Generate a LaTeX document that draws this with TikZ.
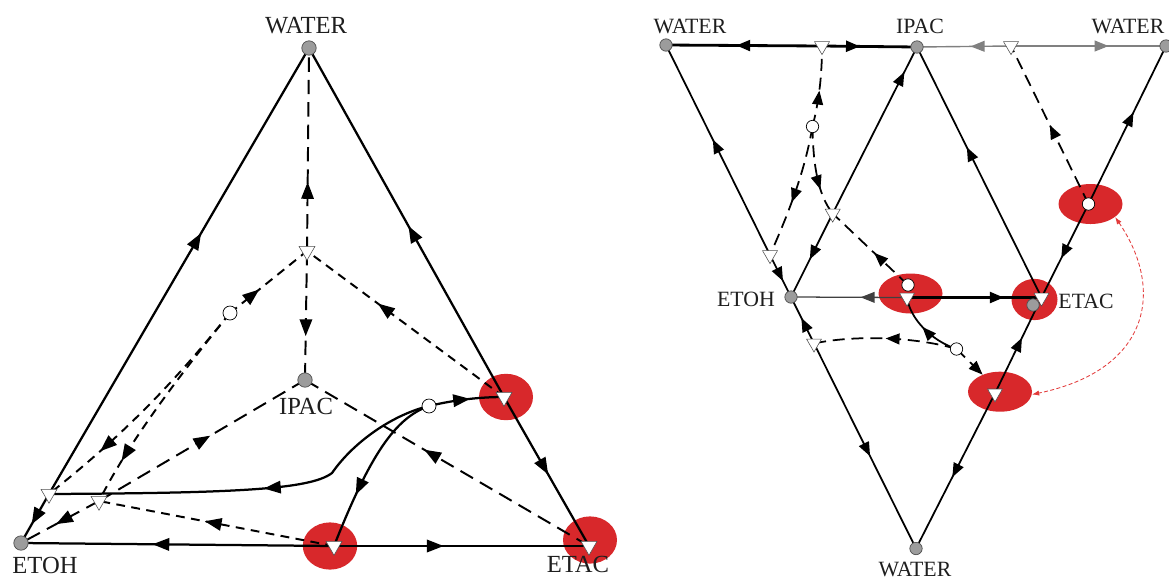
\documentclass[tikz,border=0pt]{standalone}
\usepackage{fontspec}
\setmainfont{Liberation Serif}
\usetikzlibrary{arrows.meta,shapes.geometric,decorations.markings}
\definecolor{cmancha}{HTML}{D8282B}
\definecolor{cpunto}{HTML}{9C9C9C}
\definecolor{cbordep}{HTML}{505050}
\definecolor{cgrisl}{HTML}{808080}
\definecolor{ctexto}{HTML}{1E1E1E}
\definecolor{crojo}{HTML}{E23A3A}
\pgfdeclarelayer{manchas}
\pgfdeclarelayer{trazos}
\pgfsetlayers{manchas,trazos,main}
\tikzset{
  vertice/.style={circle,draw=cbordep,fill=cpunto,line width=0.5pt,inner sep=0pt,minimum size=3.6mm},
  verticec/.style={vertice,minimum size=3.1mm},
  silla/.style={regular polygon,regular polygon sides=3,shape border rotate=180,draw=cbordep,
                fill=white,line width=0.4pt,inner sep=0pt,minimum size=4.6mm},
  sillac/.style={silla,minimum size=4.3mm},
  nodoc/.style={circle,draw=black,fill=white,line width=0.5pt,inner sep=0pt,minimum size=3.5mm},
  nodocc/.style={nodoc,minimum size=3.1mm},
  mancha/.style 2 args={ellipse,fill=cmancha,inner sep=0pt,minimum width=#1,minimum height=#2},
  etq/.style={font=\fontsize{17.5}{20}\selectfont,text=ctexto,inner sep=0pt},
  etqc/.style={font=\fontsize{15.5}{18}\selectfont,text=ctexto,inner sep=0pt},
  fl/.style={postaction={decorate},decoration={markings,
             mark=at position #1 with {\arrow{Triangle[length=4.2mm,width=3.1mm]}}}},
  flc/.style={postaction={decorate},decoration={markings,
             mark=at position #1 with {\arrow{Triangle[length=3.5mm,width=2.7mm]}}}},
  lado/.style={draw=black,line width=1.6pt},
  guion/.style={draw=black,line width=1.4pt,dash pattern=on 3.6mm off 2mm},
  guionc/.style={draw=black,line width=1.4pt,dash pattern=on 2.2mm off 1.6mm},
  ladoc/.style={draw=black,line width=1.25pt},
  ladog/.style={draw=black,line width=2pt},
  ladod/.style={draw=black!75,line width=0.9pt},
  ladogris/.style={draw=cgrisl,line width=1pt},
  rguion/.style={draw=black,line width=1.25pt,dash pattern=on 3mm off 1.7mm},
  arcorojo/.style={draw=crojo,line width=0.6pt,dash pattern=on 1mm off 0.6mm,
                   arrows={Latex[length=1.8mm,width=1.3mm]-Latex[length=1.8mm,width=1.3mm]}},
}

\begin{document}
\begin{tikzpicture}[x=0.25mm,y=-0.25mm]
\useasboundingbox (0,0) rectangle (1169,579);

% ---------------- diagrama izquierdo ----------------
\node[vertice] (Lw) at (309,48)  {};
\node[vertice] (Le) at (21,543)  {};
\node[vertice] (Li) at (305,380) {};
\node[silla]   (Lt0) at (307,251) {};
\node[silla]   (Lt1) at (49,494)  {};
\node[silla]   (Lt2) at (99,501)  {};
\node[silla]   (Lt3) at (504,397) {};
\node[silla]   (Lt4) at (334,546) {};
\node[silla]   (Lt5) at (589,546) {};
\node[nodoc]   (Lc1) at (230,313) {};
\node[nodoc]   (Lc2) at (429,406) {};
\coordinate (quiebre) at (332,473);

\node[etq] (eLw) at (306,26)  {WATER};
\node[etq] (eLe) at (45,565)  {ETOH};
\node[etq] (eLa) at (578,564) {ETAC};
\node[etq] (eLi) at (306,406) {IPAC};

\begin{pgfonlayer}{manchas}
  \node[mancha={13.5mm}{11.6mm}] (Lz3) at (506,397) {};
  \node[mancha={13.6mm}{11.8mm}] (Lz4) at (330,546) {};
  \node[mancha={13.5mm}{11.8mm}] (Lz5) at (590,540) {};
\end{pgfonlayer}

\begin{pgfonlayer}{trazos}
  \draw[lado,fl=0.585] (Lt1.center) -- (Lw.center);
  \draw[lado,fl=0.62]  (Lt1.center) -- (Le.center);
  \draw[lado,fl=0.49]  (Lt3.center) -- (Lw.center);
  \draw[lado,fl=0.52]  (Lt3.center) -- (Lt5.center);
  \draw[lado,fl=0.58]  (Lt4.center) -- (Le.center);
  \draw[lado,fl=0.43]  (Lt4.center) -- (Lt5.center);
  \draw[guion,fl=0.34] (Lt0.center) -- (Lw.center);
  \draw[guion,fl=0.66] (Lt0.center) -- (Li.center);
  \draw[guionc,fl=0.64] (Lt3.center) -- (Lt0.center);
  \draw[guionc,fl=0.38] (Lc1.center) -- (Lt0.center);
  \draw[guionc,fl=0.74] (Lc1.center) .. controls (180,375) and (130,430) .. (Lt1.center);
  \draw[guionc,fl=0.8]  (Lc1.center) .. controls (180,375) and (130,440) .. (Lt2.center);
  \draw[guion,fl=0.54] (Lt2.center) -- (Li.center);
  \draw[guion,fl=0.55] (Lt2.center) -- (Le.center);
  \draw[guion,fl=0.58] (Lt5.center) -- (Li.center);
  \draw[guionc,fl=0.55] (Lt4.center) -- (Lt2.center);
  \draw[lado,fl=0.55] (Lc2.center) .. controls (450,401) and (475,397) .. (Lt3.center);
  \draw[lado,fl=0.47] (Lc2.center) .. controls (395,414) and (355,440) .. (quiebre)
        .. controls (310,490) and (230,493) .. (Lt1.center);
  \draw[lado,fl=0.68] (Lc2.center) .. controls (395,418) and (370,455) .. (Lt4.center);
\end{pgfonlayer}

% ---------------- diagrama derecho ----------------
\node[verticec] (Rw1) at (666,45)    {};
\node[verticec] (Ri)  at (917,47)    {};
\node[verticec] (Rw2) at (1166,46)   {};
\node[verticec] (Re)  at (791,297)   {};
\node[verticec] (Rw3) at (916,548.5) {};
\node[verticec] (Rd)  at (1033,305)  {};
\node[sillac] (Rt1) at (822,46)      {};
\node[sillac] (Rt2) at (1011,46)     {};
\node[sillac] (Rt3) at (770,255)     {};
\node[sillac] (Rt4) at (832.7,213.5) {};
\node[sillac] (Rt5) at (907,297.5)   {};
\node[sillac] (Rt6) at (995,393.3)   {};
\node[sillac] (Rt7) at (814,343.4)   {};
\node[sillac] (Ra)  at (1041.5,297.5) {};
\node[nodocc] (Rc1) at (812.5,126.5) {};
\node[nodocc] (Rc2) at (908,285)     {};
\node[nodocc] (Rc3) at (1088.5,204)  {};
\node[nodocc] (Rc4) at (956.5,349)   {};

\node[etqc] (eRw1) at (690,26)  {WATER};
\node[etqc] (eRi)  at (920,26)  {IPAC};
\node[etqc] (eRw2) at (1128,26) {WATER};
\node[etqc] (eRe)  at (746,299) {ETOH};
\node[etqc] (eRa)  at (1086,301) {ETAC};
\node[etqc] (eRw3) at (915,569) {WATER};

\begin{pgfonlayer}{manchas}
  \node[mancha={16mm}{10mm}]      (Rz1) at (910.5,293.5) {};
  \node[mancha={16mm}{10mm}]      (Rz2) at (1090.5,204)  {};
  \node[mancha={16mm}{10mm}]      (Rz3) at (1000,391.7)  {};
  \node[mancha={11.5mm}{10.3mm}]  (Rza) at (1034.5,299.5) {};
\end{pgfonlayer}

\begin{pgfonlayer}{trazos}
  \draw[ladog,flc=0.55]   (Rt1.center) -- (Rw1.center);
  \draw[ladog,flc=0.4]    (Rt1.center) -- (Ri.center);
  \draw[ladogris,flc=0.43] (Rt2.center) -- (Ri.center);
  \draw[ladogris,flc=0.63] (Rt2.center) -- (Rw2.center);
  \draw[ladoc,flc=0.55] (Rt3.center) -- (Rw1.center);
  \draw[ladoc,flc=0.62] (Rt3.center) -- (Re.center);
  \draw[ladoc,flc=0.55] (Rt7.center) -- (Re.center);
  \draw[ladoc,flc=0.55] (Rt7.center) -- (Rw3.center);
  \draw[ladoc,flc=0.85] (Rt4.center) -- (Ri.center);
  \draw[ladoc,flc=0.55] (Rt4.center) -- (Re.center);
  \draw[ladoc,flc=0.6]  (Ra.center) -- (Ri.center);
  \draw[ladoc,flc=0.58] (Rc3.center) -- (Rw2.center);
  \draw[ladoc,flc=0.58] (Rc3.center) -- (Ra.center);
  \draw[ladoc,flc=0.58] (Rt6.center) -- (Ra.center);
  \draw[ladoc,flc=0.54] (Rt6.center) -- (Rw3.center);
  \draw[ladod,flc=0.4]  (Rt5.center) -- (Re.center);
  \draw[ladog,flc=0.72] (Rt5.center) -- (Ra.center);
  \draw[rguion,flc=0.45] (Rc1.center) .. controls (818,105) and (822,80) .. (Rt1.center);
  \draw[rguion,flc=0.58] (Rc1.center) .. controls (805,170) and (790,210) .. (Rt3.center);
  \draw[rguion,flc=0.7]  (Rc1.center) .. controls (813,165) and (818,195) .. (Rt4.center);
  \draw[rguion,flc=0.45] (Rc2.center) -- (Rt4.center);
  \draw[ladoc,flc=0.55]  (Rc4.center) .. controls (930,340) and (910,318) .. (Rt5.center);
  \draw[rguion,flc=0.5]  (Rc4.center) .. controls (920,338) and (860,334) .. (Rt7.center);
  \draw[rguion,-{Triangle[length=3.5mm,width=2.7mm]}] (Rc4.center) -- (Rz3);
  \draw[rguion,flc=0.5]  (Rc3.center) -- (Rt2.center);
  \draw[arcorojo] (Rz2.-28) .. controls (1165,290) and (1150,370) .. (Rz3.-5);
\end{pgfonlayer}

\end{tikzpicture}
\end{document}
